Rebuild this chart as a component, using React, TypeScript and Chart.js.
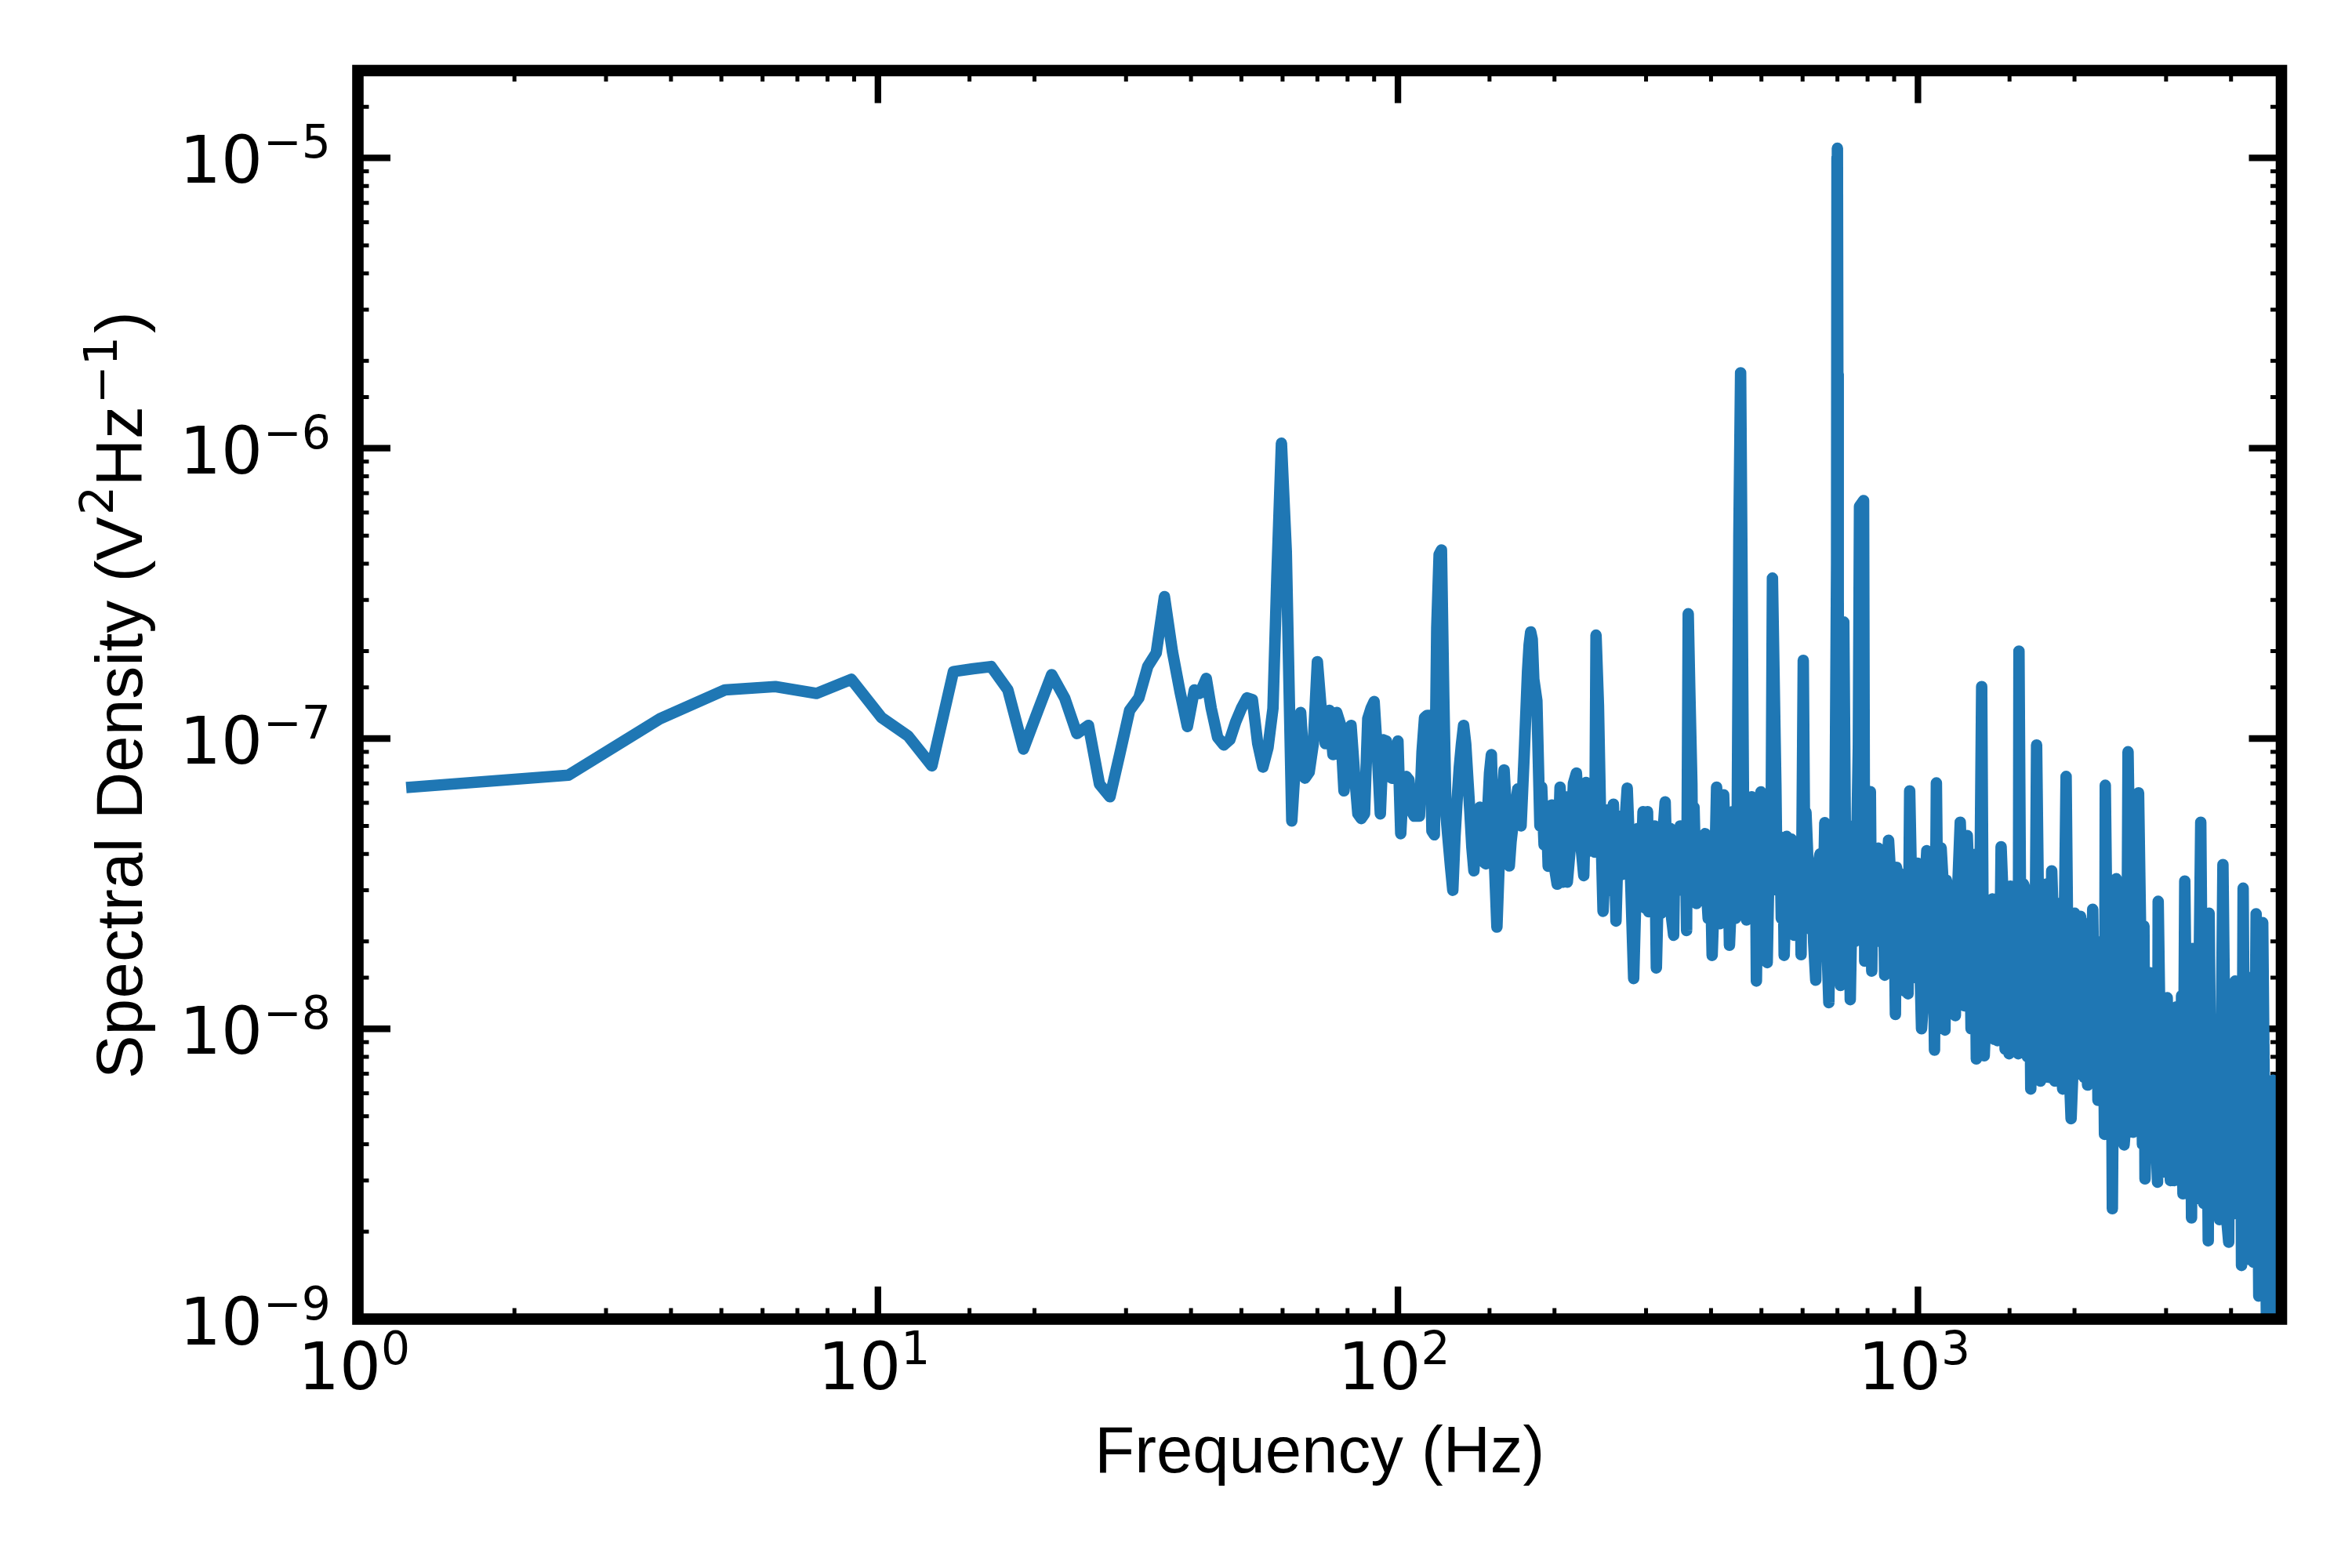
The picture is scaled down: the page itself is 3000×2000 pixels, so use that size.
import { useEffect, useRef } from "react"
import { Chart, registerables } from "chart.js"

Chart.register(...registerables)

type Reading = [number, number]

// frequency (Hz), spectral density (V^2/Hz)
const rumble: Reading[] = [
  [1.27, 6.8e-8], [2.54, 7.48e-8], [3.81, 1.17e-7], [5.08, 1.47e-7], [6.35, 1.51e-7], [7.62, 1.43e-7], [8.89, 1.6e-7],
  [10.16, 1.18e-7], [11.43, 1.02e-7], [12.7, 8.05e-8], [13.97, 1.7e-7], [15.24, 1.74e-7], [16.51, 1.77e-7], [17.78, 1.47e-7],
  [19.05, 9.2e-8], [20.32, 1.25e-7], [21.59, 1.66e-7], [22.86, 1.38e-7], [24.13, 1.04e-7], [25.4, 1.11e-7], [26.67, 6.97e-8],
  [27.94, 6.3e-8], [29.21, 8.9e-8], [30.48, 1.25e-7], [31.75, 1.38e-7], [33.02, 1.77e-7], [34.29, 1.97e-7], [35.56, 3.08e-7],
  [36.83, 2e-7], [38.1, 1.45e-7], [39.37, 1.1e-7], [40.6, 1.47e-7], [41.6, 1.43e-7], [42.8, 1.61e-7], [43.75, 1.27e-7],
  [45, 1.01e-7], [46.25, 9.5e-8], [47.5, 9.9e-8], [48.75, 1.14e-7], [50, 1.27e-7], [51.25, 1.38e-7], [52.5, 1.36e-7],
  [53.75, 9.6e-8], [55, 7.97e-8], [56.25, 9.3e-8], [57.5, 1.27e-7],
]

const mains: Reading[] = [
  [58.5, 3.6e-7], [59.7, 1.04e-6], [61, 4.4e-7], [62.5, 5.2e-8], [63.75, 9.2e-8], [65, 1.23e-7], [66.25, 7.3e-8],
  [67.5, 7.66e-8], [68.75, 9.6e-8], [70, 1.84e-7], [71.25, 1.24e-7], [72.5, 9.6e-8], [73.75, 1.25e-7], [75, 8.8e-8],
  [76.25, 1.23e-7], [77.5, 1.12e-7], [78.75, 6.6e-8], [80, 9e-8], [81.25, 1.11e-7], [82.5, 7.6e-8], [83.75, 5.5e-8],
  [85, 5.3e-8], [86.25, 5.5e-8], [87.5, 1.17e-7], [88.75, 1.27e-7], [90, 1.34e-7], [91.25, 9e-8], [92.5, 5.5e-8],
  [93.75, 9.9e-8], [95, 9.8e-8], [96.25, 7.4e-8], [97.5, 7.3e-8], [98.75, 8.5e-8], [100, 9.8e-8], [101.25, 4.7e-8],
  [102.5, 7.2e-8], [103.75, 7.4e-8], [105, 7.2e-8], [106.25, 5.6e-8], [107.5, 5.4e-8], [110, 5.4e-8], [111.25, 9e-8],
  [112.5, 1.18e-7], [113.75, 1.2e-7], [115, 1.2e-7], [116.25, 4.8e-8], [117.5, 4.66e-8], [118.75, 2.4e-7], [120, 4.3e-7],
  [121.25, 4.46e-7], [122.5, 1.4e-7], [123.75, 5.4e-8], [125, 4.4e-8], [126.25, 3.6e-8], [127.5, 3e-8], [128.75, 4.6e-8],
  [130, 6.2e-8], [131.25, 8e-8], [132.5, 9.6e-8], [133.75, 1.11e-7], [135, 9.6e-8], [136.25, 7.3e-8], [137.5, 5.6e-8],
  [138.75, 4.2e-8], [140, 3.5e-8], [141.25, 5.4e-8], [143.75, 5.8e-8], [145, 3.8e-8], [147.5, 3.7e-8], [148.75, 5.6e-8],
  [150, 7.6e-8], [151.25, 8.8e-8], [152.5, 4.8e-8], [155, 2.24e-8], [157.5, 5e-8], [160, 7.8e-8], [161.25, 6e-8],
  [163.75, 3.64e-8], [165, 4.4e-8], [167.5, 5.6e-8], [170, 6.7e-8], [172.5, 5e-8], [175, 9e-8], [177.5, 1.7e-7],
  [178.75, 2.1e-7], [180, 2.33e-7],
]

const midBand: Reading[] = [
  [181.25, 2.2e-7], [182.5, 1.6e-7], [185, 1.35e-7], [187.5, 5e-8], [189, 6.8e-8], [191, 4.3e-8], [193, 5.7e-8],
  [194.5, 3.63e-8], [197.6, 5.9e-8], [200, 3.6e-8], [202.4, 3.15e-8], [205, 6.8e-8], [208, 3.2e-8], [210, 6.3e-8], [211.7, 3.2e-8],
  [215, 4.43e-8], [217.5, 7e-8], [220.4, 7.6e-8], [224, 4.6e-8], [227.7, 3.37e-8], [230, 7.06e-8], [234, 4.1e-8],
  [237, 7.06e-8], [239, 4.06e-8], [240.4, 2.27e-7], [243, 1.3e-7], [245, 6e-8], [248, 2.54e-8], [253, 5.68e-8],
  [256, 3e-8], [259.6, 5.94e-8], [262.6, 2.35e-8], [266, 5.4e-8], [270, 3.4e-8], [273, 5e-8], [276, 6.75e-8], [280, 3.4e-8],
  [284, 1.49e-8], [289, 4.9e-8], [293, 3e-8], [296, 5.6e-8], [299, 2.6e-8], [302, 5.6e-8], [303.5, 2.53e-8], [307, 5e-8],
  [309, 3e-8], [311.6, 5e-8], [314, 1.62e-8], [316, 2.6e-8], [318, 4.4e-8], [321, 2.5e-8], [323, 4.6e-8], [326.5, 6.05e-8], [330, 2.9e-8], [334, 4.9e-8],
  [336, 2.4e-8], [339, 2.1e-8], [341, 4.6e-8], [344, 4.6e-8], [346, 3e-8], [349, 5e-8], [352, 4.6e-8], [354, 3e-8], [357, 4.6e-8], [359, 2.18e-8], [361.6, 2.69e-7], [364, 1.5e-7],
  [367.5, 7e-8], [369, 3e-8], [371, 5.8e-8], [375, 2.7e-8], [377, 4.4e-8], [380, 4.6e-8], [382, 2.9e-8], [385, 2.9e-8], [387, 4.4e-8], [389.5, 4.7e-8], [392, 3e-8], [395, 2.4e-8], [398, 4.4e-8],
  [402, 1.79e-8], [406, 3e-8], [410, 6.8e-8], [413, 4.4e-8], [416, 2.3e-8], [419, 3e-8], [423, 6.4e-8], [426, 4.4e-8], [428, 2.6e-8], [431, 4.4e-8], [434, 1.94e-8], [437, 2.6e-8], [440, 5.6e-8],
  [443, 4.4e-8], [446, 2.4e-8], [449, 4.6e-8], [452.5, 5e-7], [456, 1.82e-6], [458.75, 4e-7], [463, 3e-8], [465, 4.5e-8], [468, 2.37e-8], [470.5, 3.2e-8], [473, 4.5e-8], [476, 2.6e-8], [479, 6.3e-8], [482, 4.8e-8], [484, 3e-8],
  [487, 4.4e-8], [489, 1.46e-8], [491.5, 3e-8], [494, 4.4e-8], [498.9, 6.55e-8], [501, 3e-8], [505, 2.5e-8], [509, 4.4e-8], [513, 1.69e-8], [516, 3e-8], [518, 6.5e-8], [522, 5e-8], [525, 3.57e-7], [533, 7e-8],
  [536, 3e-8], [540, 4.6e-8], [543, 4.4e-8], [546, 2.4e-8], [550, 4.4e-8], [553, 1.79e-8], [556, 2.6e-8], [559, 4.6e-8], [562, 4.5e-8], [566, 2.3e-8], [571, 4.5e-8], [574, 3e-8], [578, 2.1e-8], [582, 4.4e-8], [585, 3e-8], [590, 2.2e-8], [593, 4.2e-8], [596, 1.8e-8],
  [601.8, 1.86e-7], [605, 5e-8], [609, 5.57e-8], [613, 4.2e-8], [618, 2.4e-8], [622, 2.2e-8], [625, 3.6e-8], [630, 2e-8], [636, 1.47e-8], [641, 3.6e-8], [648, 4e-8], [655, 2e-8], [662, 5.13e-8],
  [668, 2e-8], [674, 1.23e-8], [680, 4e-8], [685, 2.3e-8], [690, 1.7e-8], [697.5, 4e-7], [698.75, 1e-5], [700, 1.08e-5], [701.25, 1.8e-6],
  [702.5, 3e-7], [706, 4.2e-8], [709.6, 1.41e-8], [712, 2.5e-8], [715, 5e-8], [720, 2.52e-7], [725, 5e-8], [728, 2.5e-8], [733, 2e-8], [737, 4e-8], [741, 1.26e-8], [745, 2.2e-8], [750, 5e-8],
  [757, 2e-8], [762, 4e-8], [768, 9.5e-8], [772, 6.3e-7], [786, 6.6e-7], [790, 1.71e-8], [794, 2.2e-8], [798, 4e-8], [804, 2e-8], [810, 6.56e-8], [815, 1.58e-8], [820, 4e-8],
  [825, 3.9e-8], [832, 2e-8], [839, 4.19e-8], [845, 3.8e-8], [850, 2e-8], [856, 3.6e-8], [863, 1.53e-8], [870, 3.4e-8], [878, 4.46e-8], [884, 3.6e-8], [890, 1.8e-8], [895, 1.9e-8], [899, 3e-8],
  [905, 1.12e-8], [909, 3.6e-8], [915, 3.4e-8], [920, 1.5e-8], [925, 1.8e-8], [930, 2.6e-8], [936, 3.4e-8], [942, 1.35e-8], [950, 3.4e-8],
]

const highBand: Reading[] = [
  [957, 1.32e-8], [964, 6.6e-8], [980, 1.5e-8], [998, 3.72e-8], [1016, 1e-8], [1023, 1.2e-8], [1030, 3e-8], [1040, 4.11e-8],
  [1048, 1.3e-8], [1058, 1.2e-8], [1068, 2.8e-8], [1076, 8.44e-9], [1085, 7.03e-8], [1096, 1.2e-8], [1108, 4.2e-8], [1120, 3e-8], [1127, 9.9e-9], [1134, 3.25e-8],
  [1144, 3e-8], [1154, 1.15e-8], [1165, 3e-8], [1172, 1.3e-8], [1180, 1.11e-8], [1192, 3e-8], [1206, 5.15e-8], [1218, 2.8e-8], [1229, 1.2e-8], [1237, 1.3e-8], [1244, 4.63e-8], [1255, 3e-8], [1265, 1e-8],
  [1270, 1.2e-8], [1277, 3.99e-8], [1286, 3e-8], [1295, 7.87e-9], [1310, 1.2e-8], [1326, 1.51e-7], [1333, 3e-8], [1341, 8.07e-9], [1350, 1.1e-8], [1360, 2.7e-8], [1370, 1.2e-8], [1380, 2.71e-8], [1390, 2.8e-8], [1402, 9.2e-9],
  [1411, 2.8e-8], [1421, 9.1e-9], [1433, 1e-8], [1445, 4.24e-8], [1458, 2.8e-8], [1471, 8.5e-9], [1478, 1e-8], [1485, 3e-8], [1497, 8.2e-9], [1506, 3.1e-8], [1532, 8.5e-9],
  [1550, 3e-8], [1559, 8.2e-9], [1564, 2e-7], [1580, 1e-8], [1596, 3.15e-8], [1610, 3e-8], [1624, 8e-9], [1637, 2.8e-8], [1648, 6.2e-9], [1660, 2.8e-8], [1675, 9e-9],
  [1691, 9.5e-8], [1705, 2.6e-8], [1720, 6.6e-9], [1730, 2.6e-8], [1741, 6.8e-9], [1761, 3.15e-8], [1775, 2.5e-8], [1787, 6.8e-9], [1798, 9e-9], [1808, 3.5e-8], [1820, 2.4e-8], [1834, 6.6e-9],
  [1850, 2.5e-8], [1866, 2.7e-8], [1880, 8e-9], [1898, 6.2e-9], [1912, 2.3e-8], [1927, 7.4e-8], [1950, 8e-9], [1970, 4.9e-9], [1985, 7e-9], [2000, 2.5e-8], [2012, 2.4e-8], [2023, 7e-9], [2040, 7e-9], [2054, 2.44e-8],
  [2070, 2.2e-8], [2087, 6.8e-9], [2100, 2.3e-8], [2119, 6.4e-9], [2145, 7e-9], [2168, 2.58e-8], [2190, 7e-9], [2205, 2e-8], [2219, 5.67e-9], [2235, 6e-9], [2253, 2e-8], [2268, 1.8e-8], [2284, 4.33e-9],
  [2292, 6.9e-8], [2330, 5e-9], [2350, 2e-8], [2365, 2.4e-9], [2385, 2.2e-8], [2406, 3.29e-8], [2425, 5e-9], [2448, 4.2e-9], [2470, 2.5e-8], [2491, 3.98e-9], [2515, 5e-9], [2535, 9e-8],
  [2565, 2.2e-8], [2594, 4.4e-9], [2625, 5e-9], [2656, 6.5e-8], [2680, 2.2e-8], [2702, 4e-9], [2720, 2.26e-8], [2733, 3.04e-9], [2797, 1.56e-8], [2889, 2.96e-9],
  [2897, 2.75e-8], [2946, 3.2e-9], [3015, 1.28e-8], [3058, 3e-9], [3086, 1.1e-8], [3111, 3e-9], [3141, 1.19e-8],
  [3187, 3e-9], [3213, 1.3e-8], [3233, 2.7e-9], [3259, 3.23e-8], [3307, 2.8e-9], [3340, 1.4e-8], [3358, 2.23e-9],
  [3375, 1.89e-8], [3435, 2.6e-9], [3498, 5.15e-8], [3545, 2.5e-9], [3580, 2e-8], [3616, 1.86e-9], [3630, 2.5e-8],
  [3670, 3e-9], [3743, 1e-8], [3802, 2.2e-9], [3859, 3.68e-8], [3925, 2.2e-9], [3959, 1.84e-9], [3980, 1.1e-8],
  [4030, 2.3e-9], [4073, 1.46e-8], [4120, 2.33e-9], [4168, 1.4e-8], [4190, 1.53e-9], [4220, 3.05e-8], [4266, 1.6e-9],
  [4340, 1.5e-8], [4418, 1.57e-9], [4470, 2.49e-8], [4523, 1.2e-9], [4602, 2.32e-8], [4681, 9e-10], [4755, 8e-10],
  [4815, 6.65e-9], [4870, 8e-10], [4925, 6.5e-9], [4975, 8e-10], [5000, 5e-9],
]

const xMin = 1
const xMax = 5000
const yMin = 1e-9
const yMax = 2e-5
const xTitle = "Frequency (Hz)"

const BLUE = "#1f77b4"
const LABEL_FONT = '"Liberation Sans"'
const TICK_FONT = '"DejaVu Sans"'

function decadeOf(value: number) {
  const exp = Math.log10(value)
  return Math.abs(exp - Math.round(exp)) < 1e-6 ? Math.round(exp) : null
}

function exponentText(exp: number) {
  return exp < 0 ? `\u2212${-exp}` : `${exp}`
}

const framePlugin = {
  id: "frame",
  // the ticks sit under the trace, the spines and the labels over it
  beforeDatasetsDraw(chart: Chart) {
    const { ctx, chartArea } = chart
    const { left, right, top, bottom } = chartArea
    ctx.save()
    ctx.strokeStyle = "#000"
    chart.scales.x.ticks.forEach((tick) => {
      if (tick.value <= xMin || tick.value >= xMax) return
      const px = chart.scales.x.getPixelForValue(tick.value)
      const major = decadeOf(tick.value) !== null
      const len = major ? 41.5 : 14
      ctx.lineWidth = major ? 8.3 : 5
      ctx.beginPath()
      ctx.moveTo(px, bottom)
      ctx.lineTo(px, bottom - len)
      ctx.moveTo(px, top)
      ctx.lineTo(px, top + len)
      ctx.stroke()
    })
    chart.scales.y.ticks.forEach((tick) => {
      if (tick.value <= yMin || tick.value >= yMax) return
      const py = chart.scales.y.getPixelForValue(tick.value)
      const major = decadeOf(tick.value) !== null
      const len = major ? 41.5 : 14
      ctx.lineWidth = major ? 8.3 : 5
      ctx.beginPath()
      ctx.moveTo(left, py)
      ctx.lineTo(left + len, py)
      ctx.moveTo(right, py)
      ctx.lineTo(right - len, py)
      ctx.stroke()
    })
    ctx.restore()
  },
  afterDraw(chart: Chart) {
    const { ctx, chartArea } = chart
    const { left, right, top, bottom } = chartArea
    ctx.save()
    ctx.strokeStyle = "#000"
    ctx.lineWidth = 14.6
    ctx.lineJoin = "miter"
    ctx.strokeRect(left, top, right - left, bottom - top)

    ctx.fillStyle = "#000"
    ctx.textBaseline = "alphabetic"
    ctx.textAlign = "left"
    chart.scales.x.ticks.forEach((tick) => {
      const exp = decadeOf(tick.value)
      if (exp === null) return
      const px = chart.scales.x.getPixelForValue(tick.value)
      ctx.font = `83.3px ${TICK_FONT}`
      ctx.fillText("10", px - 76.5, 1771.5)
      ctx.font = `58.3px ${TICK_FONT}`
      ctx.fillText(exponentText(exp), px + 29.5, 1739.5)
    })
    chart.scales.y.ticks.forEach((tick) => {
      const exp = decadeOf(tick.value)
      if (exp === null) return
      const py = chart.scales.y.getPixelForValue(tick.value)
      ctx.font = `83.3px ${TICK_FONT}`
      ctx.fillText("10", 229, py + 32)
      ctx.font = `58.3px ${TICK_FONT}`
      ctx.fillText(exponentText(exp), 336, py)
    })

    ctx.font = `83.3px ${LABEL_FONT}`
    ctx.textAlign = "center"
    ctx.fillText(xTitle, (left + right) / 2, 1878)

    // rotated title: the pieces are placed one by one, the powers are smaller and raised
    ctx.translate(181, 0)
    ctx.rotate(-Math.PI / 2)
    ctx.textAlign = "left"
    const body = `83.3px ${LABEL_FONT}`
    const power = `58.3px ${TICK_FONT}`
    ctx.font = body
    ctx.letterSpacing = "0.25px"
    ctx.fillText("Spectral Density (", -1376, 0)
    ctx.letterSpacing = "0px"
    ctx.fillText("V", -715, 0)
    ctx.fillText("Hz", -620, 0)
    ctx.fillText(")", -425, 0)
    ctx.font = power
    ctx.fillText("2", -657, -37)
    ctx.fillText("\u22121", -515, -32)
    ctx.restore()
  },
}

export default function App() {
  const chartRef = useRef<HTMLCanvasElement>(null)

  useEffect(() => {
    if (!chartRef.current) return

    const readings = [...rumble, ...mains, ...midBand, ...highBand]
    const chart = new Chart(chartRef.current, {
      type: "line",
      data: {
        datasets: [
          {
            data: readings.map(([x, y]) => ({ x, y })),
            borderColor: BLUE,
            borderWidth: 14.6,
            borderJoinStyle: "round",
            borderCapStyle: "square",
            pointRadius: 0,
            tension: 0,
            fill: false,
            clip: 0,
          },
        ],
      },
      options: {
        animation: false,
        responsive: false,
        devicePixelRatio: 1,
        layout: { padding: { top: 90, right: 90, left: 0, bottom: 0 } },
        plugins: { legend: { display: false }, title: { display: false }, tooltip: { enabled: false } },
        scales: {
          x: {
            type: "logarithmic",
            min: xMin,
            max: xMax,
            grid: { display: false },
            border: { display: false },
            ticks: { display: false },
            afterFit: (scale) => {
              scale.height = 317.5
            },
          },
          y: {
            type: "logarithmic",
            min: yMin,
            max: yMax,
            grid: { display: false },
            border: { display: false },
            ticks: { display: false },
            afterFit: (scale) => {
              scale.width = 456.5
            },
          },
        },
      },
      plugins: [framePlugin],
    })

    return () => {
      chart.destroy()
    }
  }, [])

  return (
    <div style={{ position: "absolute", left: 0, top: 0, width: 3000, height: 2000, background: "#fff" }}>
      <canvas ref={chartRef} width={3000} height={2000} style={{ display: "block" }} />
    </div>
  )
}
